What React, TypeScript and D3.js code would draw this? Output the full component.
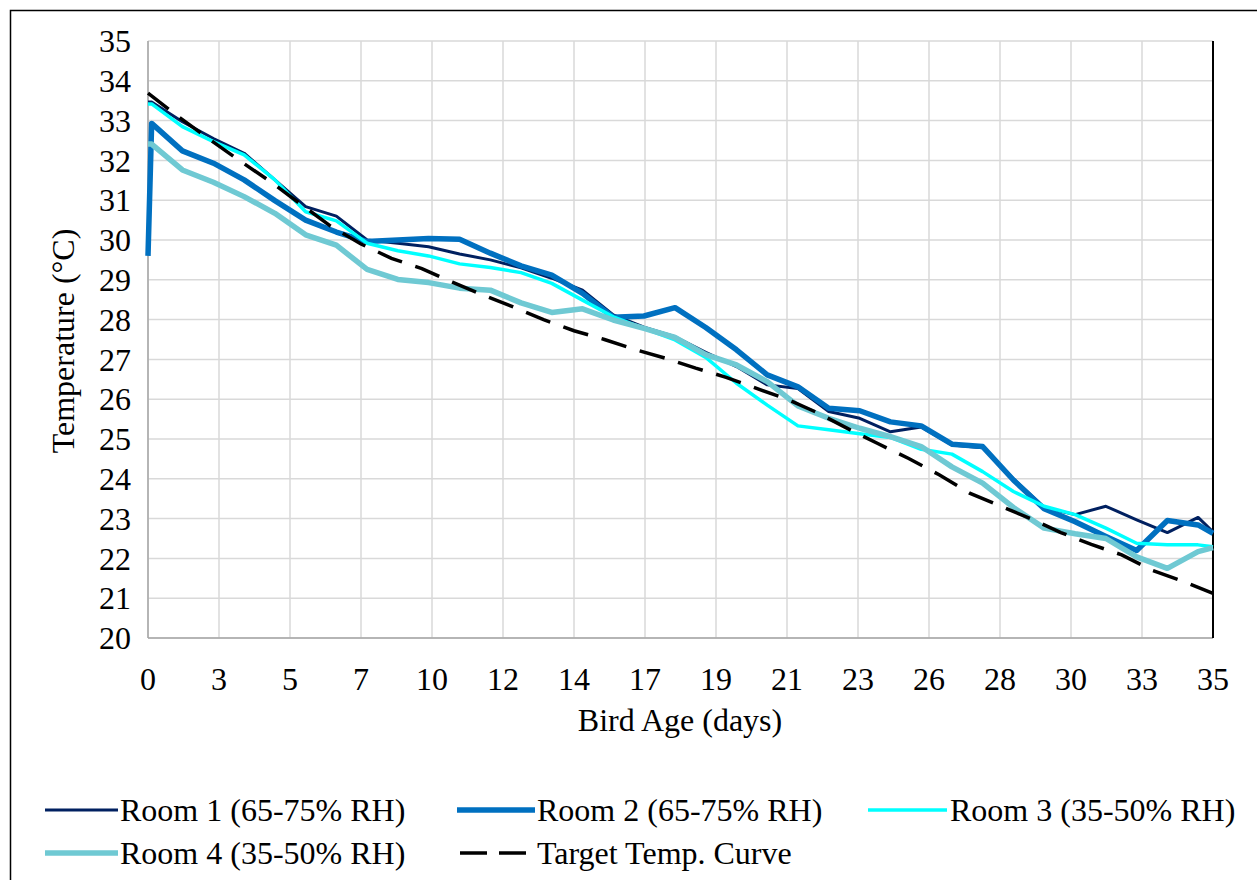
import React from 'react';
import * as d3 from 'd3';

// sample days (shared by the four rooms)
const days = [0, 0.12, 1.13, 2.15, 3.16, 4.17, 5.18, 6.19, 7.2, 8.21, 9.22, 10.24, 11.25, 12.26, 13.27,
    14.28, 15.29, 16.3, 17.32, 18.33, 19.34, 20.35, 21.36, 22.37, 23.39, 24.4, 25.41, 26.42, 27.43,
    28.44, 29.45, 30.47, 31.48, 32.49, 33.5, 34.51, 35];

const room1 = [33.47, 33.47, 32.97, 32.55, 32.18, 31.51, 30.84, 30.6, 30.0, 29.92, 29.83, 29.65, 29.5,
    29.3, 29.04, 28.74, 28.12, 27.81, 27.57, 27.18, 26.82, 26.36, 26.27, 25.69, 25.52, 25.18, 25.3,
    24.85, 24.78, 24.0, 23.28, 23.1, 23.31, 22.97, 22.65, 23.03, 22.67];
const room2 = [29.6, 32.93, 32.24, 31.93, 31.51, 30.99, 30.5, 30.2, 29.96, 30.0, 30.04, 30.02, 29.67,
    29.35, 29.12, 28.66, 28.06, 28.09, 28.3, 27.8, 27.24, 26.61, 26.31, 25.77, 25.71, 25.43, 25.33,
    24.87, 24.81, 23.97, 23.25, 22.92, 22.55, 22.2, 22.95, 22.84, 22.63];
const room3 = [33.42, 33.42, 32.85, 32.47, 32.14, 31.51, 30.71, 30.48, 29.92, 29.73, 29.6, 29.4, 29.31,
    29.18, 28.91, 28.49, 28.07, 27.78, 27.49, 27.05, 26.4, 25.85, 25.33, 25.23, 25.13, 25.04, 24.74,
    24.62, 24.18, 23.68, 23.31, 23.1, 22.76, 22.38, 22.34, 22.34, 22.29];
const room4 = [32.41, 32.41, 31.76, 31.45, 31.09, 30.67, 30.13, 29.87, 29.26, 29.01, 28.93, 28.79, 28.74,
    28.42, 28.18, 28.27, 27.99, 27.78, 27.55, 27.12, 26.86, 26.44, 25.83, 25.52, 25.27, 25.06, 24.81,
    24.3, 23.89, 23.28, 22.76, 22.62, 22.5, 22.04, 21.75, 22.17, 22.27];

// target curve, one value per day 0..35
const targetDays = d3.range(0, 36);
const target = [33.69, 33.1, 32.54, 32.0, 31.48, 30.91, 30.35, 29.9, 29.54, 29.28, 28.94, 28.62, 28.32,
    28.0, 27.72, 27.5, 27.25, 27.03, 26.78, 26.55, 26.27, 26.0, 25.66, 25.26, 24.88, 24.51, 24.1,
    23.64, 23.32, 23.0, 22.65, 22.35, 22.09, 21.7, 21.43, 21.12];

const xTickLabels = ['0', '3', '5', '7', '10', '12', '14', '17', '19', '21', '23', '26', '28', '30', '33', '35'];
const yTicks = d3.range(20, 36);

const series = [
    { name: 'Room 1 (65-75% RH)', values: room1, color: '#002060', width: 3 },
    { name: 'Room 2 (65-75% RH)', values: room2, color: '#0070C0', width: 5.5 },
    { name: 'Room 3 (35-50% RH)', values: room3, color: '#00FFFF', width: 3.5 },
    { name: 'Room 4 (35-50% RH)', values: room4, color: '#6FC9D3', width: 5.5 },
];

const W = 1257;
const H = 880;
const margin = { left: 148, right: 44, top: 41, bottom: 242 };
const FONT = '"Liberation Serif", "Times New Roman", serif';
const FS = 32;

export default function App() {
    const x = d3.scaleLinear().domain([0, 35]).range([margin.left, W - margin.right]);
    const y = d3.scaleLinear().domain([20, 35]).range([H - margin.bottom, margin.top]);
    const line = d3.line<[number, number]>().x(d => x(d[0])).y(d => y(d[1]));
    const xTicks = xTickLabels.map((_, i) => (i * 35) / (xTickLabels.length - 1));

    // legend items: line start/end and text start
    const legend = [
        { ...series[0], x1: 45, x2: 118, tx: 120, ly: 810 },
        { ...series[1], x1: 457, x2: 535, tx: 537, ly: 810 },
        { ...series[2], x1: 868, x2: 947, tx: 950, ly: 810 },
        { ...series[3], x1: 45, x2: 118, tx: 120, ly: 853 },
        { name: 'Target Temp. Curve', color: '#000', width: 3.5, dash: '27 12', x1: 460, x2: 535, tx: 537, ly: 853 },
    ];

    return (
        <svg width={W} height={H} style={{ position: 'absolute', left: 0, top: 0, background: '#fff' }}
            fontFamily={FONT}>
            <rect x={10.5} y={10.5} width={W} height={H} fill="#fff" stroke="#000" strokeWidth={1.5} />
            {/* grid */}
            <g stroke="#d9d9d9" strokeWidth={1.5}>
                {yTicks.map(t => <line key={'h' + t} x1={x(0)} x2={x(35)} y1={y(t)} y2={y(t)} />)}
                {xTicks.map((t, i) => <line key={'v' + i} x1={x(t)} x2={x(t)} y1={y(20)} y2={y(35)} />)}
            </g>
            <line x1={x(0)} x2={x(0)} y1={y(20)} y2={y(35)} stroke="#a6a6a6" strokeWidth={1.5} />
            <line x1={x(0)} x2={x(35)} y1={y(20)} y2={y(20)} stroke="#a6a6a6" strokeWidth={1.5} />
            <line x1={x(35)} x2={x(35)} y1={y(20)} y2={y(35)} stroke="#000" strokeWidth={2} />
            {/* series */}
            {series.map(s => (
                <path key={s.name}
                    d={line(days.map((d, i) => [d, s.values[i]] as [number, number])) || ''}
                    fill="none" stroke={s.color} strokeWidth={s.width} strokeLinejoin="round" />
            ))}
            <path d={line(targetDays.map((d, i) => [d, target[i]] as [number, number])) || ''}
                fill="none" stroke="#000" strokeWidth={3.5} strokeDasharray="26 14" />
            {/* axes labels */}
            <g fontSize={FS} fill="#000">
                {yTicks.map(t => (
                    <text key={'yl' + t} x={131} y={y(t)} dy="0.35em" textAnchor="end">{t}</text>
                ))}
                {xTicks.map((t, i) => (
                    <text key={'xl' + i} x={x(t)} y={690} textAnchor="middle">{xTickLabels[i]}</text>
                ))}
                <text x={680} y={731} textAnchor="middle">Bird Age (days)</text>
                <text transform={`translate(74, 341) rotate(-90)`} textAnchor="middle">Temperature (°C)</text>
            </g>
            {/* legend */}
            <g fontSize={FS}>
                {legend.map(l => (
                    <g key={l.name}>
                        <line x1={l.x1} x2={l.x2} y1={l.ly} y2={l.ly} stroke={l.color} strokeWidth={l.width}
                            strokeDasharray={(l as any).dash} />
                        <text x={l.tx} y={l.ly} dy="0.35em">{l.name}</text>
                    </g>
                ))}
            </g>
        </svg>
    );
}
